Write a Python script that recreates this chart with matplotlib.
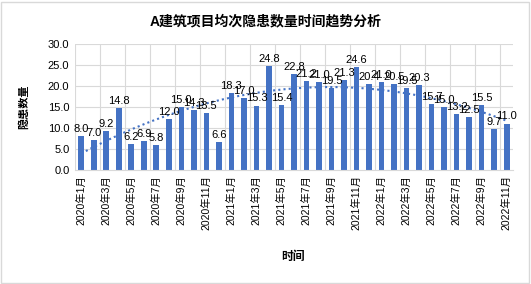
import matplotlib.pyplot as plt
import numpy as np

plt.rcParams['font.family'] = ['Liberation Sans', 'Noto Sans CJK SC']

# monthly values, 2020-01 .. 2022-11
months = [f'{y}年{m}月' for y in (2020, 2021, 2022) for m in range(1, 13)][:35]
values = [8.0, 7.0, 9.2, 14.8, 6.2, 6.9, 5.8, 12.0, 15.0, 14.3, 13.5, 6.6,
          18.3, 17.0, 15.3, 24.8, 15.4, 22.8, 21.2, 21.0, 19.5, 21.3, 24.6, 20.4,
          21.0, 20.5, 19.5, 20.3, 15.7, 15.0, 13.2, 12.5, 15.5, 9.7, 11.0]

blue = '#4472C4'
x = np.arange(len(values))

fig = plt.figure(figsize=(5.31, 2.84), dpi=100)
ax = fig.add_axes([0.1412, 0.403, 0.8248, 0.442])

ax.bar(x, values, width=0.45, color=blue, zorder=2)
for xi, v in zip(x, values):
    ax.annotate(f'{v:.1f}', (xi, v), xytext=(0, 1.5), textcoords='offset points',
                ha='center', va='bottom', fontsize=8, zorder=4)

# trend line (polynomial fit of the data)
coef = np.polyfit(x, values, 2)
xx = np.linspace(0, len(values) - 1, 200)
ax.plot(xx, np.polyval(coef, xx), ls=(0, (1, 1.5)), color=blue, lw=1.5, zorder=3)

ax.set_xlim(-0.5, len(values) - 0.5)
ax.set_ylim(0, 30)
ax.set_yticks(np.arange(0, 31, 5))
ax.set_yticklabels([f'{t:.1f}' for t in np.arange(0, 31, 5)], fontsize=8)
ax.set_xticks(x[::2])
ax.set_xticklabels(months[::2], rotation=90, fontsize=7.5)
ax.tick_params(length=0, pad=4)

# gridlines
for gy in np.arange(5, 31, 5):
    ax.axhline(gy, color='#D9D9D9', lw=0.8, zorder=0)
for gx in np.arange(-0.5, len(values), 2):
    ax.axvline(gx, color='#D9D9D9', lw=0.8, zorder=0)

for s in ['top', 'right', 'left']:
    ax.spines[s].set_visible(False)
ax.spines['bottom'].set_color('#D9D9D9')

fig.text(0.5, 0.926, 'A建筑项目均次隐患数量时间趋势分析', ha='center', va='center',
         fontsize=10, fontweight='bold')
fig.text(0.045, 0.623, '隐患数量', rotation=90, ha='center', va='center',
         fontsize=8, fontweight='bold')
fig.text(0.552, 0.095, '时间', ha='center', va='center', fontsize=8.5, fontweight='bold')

# chart border
fig.patches.append(plt.Rectangle((0.002, 0.004), 0.994, 0.99, transform=fig.transFigure,
                                 fill=False, edgecolor='#D9D9D9', lw=1))

fig.savefig('out.png', dpi=100)
